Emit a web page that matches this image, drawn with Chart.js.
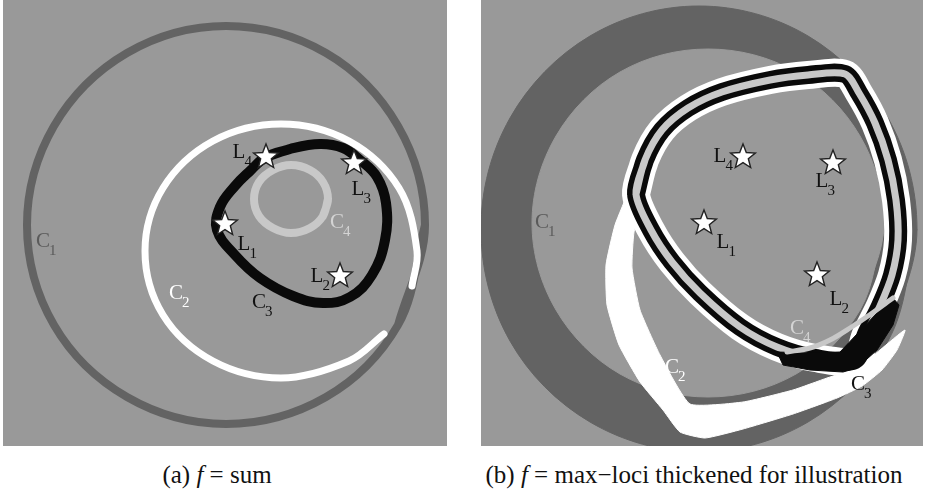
<!DOCTYPE html>
<html>
<head>
<meta charset="utf-8">
<script src="https://cdn.jsdelivr.net/npm/chart.js@4.4.1/dist/chart.umd.min.js"></script>
<style>
  body { margin: 0; background: #fff; width: 926px; height: 494px; position: relative; overflow: hidden; font-family: "Liberation Serif", serif; }
  .panel { position: absolute; top: 0; height: 446px; background: #999999; }
  #panelA { left: 3px; width: 444px; }
  #panelB { left: 481px; width: 442px; }
  .caption { position: absolute; top: 462px; font-size: 25px; line-height: 25px; text-align: center; color: #111; white-space: nowrap; }
</style>
</head>
<body>
<div class="panel" id="panelA"><canvas id="chartA"></canvas></div>
<div class="panel" id="panelB"><canvas id="chartB"></canvas></div>
<div class="caption" style="left:117px;width:200px">(a) <i>f</i> = sum</div>
<div class="caption" style="left:444px;width:500px">(b) <i>f</i> = max−loci thickened for illustration</div>
<script>
// all values are picture pixel coordinates [x, y]

// panel (a)
const aC1 = [[425,225],[398,325],[326,397],[226,424],[127,397],[54,325],[27,225],[54,126],[127,53],[226,26],[326,53],[398,126],[425,225],[398,325]];
const aC2 = [[384,334],[349,361],[281,378],[213,361],[163,315],[145,251],[163,188],[213,141],[281,124],[349,141],[399,188],[417,251],[412,286]];
const aC3 = [[266,157],[290,149],[320,144],[343,148],[360,160],[377,177],[386,203],[385,240],[372,275],[350,297],[323,303],[293,296],[260,278],[235,255],[217,230],[220,207],[235,186],[250,171],[266,157],[290,149]];
const aC4 = [[328,199],[323,216],[310,228],[291,233],[273,228],[259,216],[254,199],[259,182],[273,170],[291,165],[310,170],[323,182],[328,199],[323,216]];
const aStars = [[225,224],[340,276],[354,163],[266,157]]; // L1..L4

// panel (b)
const bC1Outer = [[917,229],[888,341],[808,422],[699,452],[590,422],[510,341],[481,229],[510,118],[590,36],[699,6],[808,36],[888,118],[917,229],[888,341]];
const bC1Inner = [[884,223],[860,310],[796,374],[708,397],[620,374],[556,310],[532,223],[556,136],[620,72],[708,49],[796,72],[860,136],[884,223],[860,310]];
const bC2 = [[630,188],[615,225],[606,265],[607,305],[619,345],[640,382],[663,410],[680,432],[705,438],[743,429],[793,414],[837,398],[862,386],[882,370],[897,350],[905,330],[880,350],[857,368],[827,378],[793,390],[743,402],[690,404],[660,355],[640,310],[632,268],[634,232],[642,205],[630,188]];
const bC3 = [[636,194],[645,160],[662,130],[688,108],[722,92],[770,80],[808,75],[845,74],[859,93],[875,123],[888,160],[896,200],[898,240],[892,275],[880,306],[866,334],[855,360],[815,358],[777,347],[740,327],[700,293],[672,262],[651,230],[636,194],[645,160]];
const bC3Knot = [[777,352],[810,353],[840,352],[858,333],[877,313],[893,298],[899,305],[893,325],[877,350],[857,368],[843,372],[810,370],[783,365],[777,352]];
const bC4 = [[787,352],[810,348],[830,340],[850,328],[868,316],[893,298]];
const bStars = [[704,223],[817,275],[833,163],[743,157]]; // L1..L4

const BG = '#999999', DARK = '#636363', LIGHT = '#c8c8c8', INK = '#111111';

// text labels: letter, subscript, centre of letter
const aLabels = [
    ['L','1',244,244,INK], ['L','2',317,276,INK], ['L','3',358,189,INK], ['L','4',239,152,INK],
    ['C','1',43,241,'#5a5a5a'], ['C','2',176,293,'#ffffff'], ['C','3',259,302,INK], ['C','4',337,222,'#d4d4d4']
];
const bLabels = [
    ['L','1',723,242,INK], ['L','2',836,299,INK], ['L','3',822,181,INK], ['L','4',720,156,INK],
    ['C','1',542,222,'#5a5a5a'], ['C','2',672,367,'#ffffff'], ['C','3',858,384,INK], ['C','4',797,328,'#d4d4d4']
];

const xy = arr => arr.map(p => ({ x: p[0], y: p[1] }));

function curve(points, color, width, order, tension) {
    return {
        data: xy(points), showLine: true, fill: false,
        borderColor: color, borderWidth: width, pointRadius: 0,
        tension: tension, order: order,
        borderJoinStyle: 'round', borderCapStyle: 'round'
    };
}

function shape(points, color, order, tension) {
    return {
        data: xy(points), showLine: true, fill: 'shape',
        borderColor: color, backgroundColor: color, borderWidth: 1,
        pointRadius: 0, tension: tension, order: order
    };
}

// white five-point star marker
function makeStar() {
    const c = document.createElement('canvas');
    c.width = 30; c.height = 30;
    const g = c.getContext('2d');
    g.beginPath();
    for (let i = 0; i < 10; i++) {
        const r = i % 2 ? 5.6 : 13;
        const a = -Math.PI / 2 + i * Math.PI / 5;
        g.lineTo(15 + r * Math.cos(a), 15 + r * Math.sin(a));
    }
    g.closePath();
    g.fillStyle = '#fff';
    g.fill();
    g.strokeStyle = '#222';
    g.lineWidth = 1.4;
    g.stroke();
    return c;
}
const star = makeStar();

function stars(points) {
    return { data: xy(points), showLine: false, pointStyle: star, pointRadius: 13, order: 0 };
}

function labelPlugin(items) {
    return {
        id: 'curveLabels',
        afterDatasetsDraw(chart) {
            const ctx = chart.ctx, xs = chart.scales.x, ys = chart.scales.y;
            ctx.save();
            ctx.textBaseline = 'middle';
            items.forEach(([main, sub, x, y, color]) => {
                const px = xs.getPixelForValue(x), py = ys.getPixelForValue(y);
                ctx.fillStyle = color;
                ctx.font = '21px "Liberation Serif"';
                ctx.textAlign = 'center';
                ctx.fillText(main, px, py);
                const w = ctx.measureText(main).width;
                ctx.font = '15px "Liberation Serif"';
                ctx.textAlign = 'left';
                ctx.fillText(sub, px + w / 2 - 1, py + 10);
            });
            ctx.restore();
        }
    };
}

function makeChart(id, xMin, xMax, datasets, labels) {
    return new Chart(document.getElementById(id), {
        type: 'scatter',
        data: { datasets: datasets },
        options: {
            animation: false,
            responsive: true,
            maintainAspectRatio: false,
            layout: { padding: 0, autoPadding: false },
            plugins: { legend: { display: false }, tooltip: { enabled: false } },
            scales: {
                x: { type: 'linear', min: xMin, max: xMax, display: false },
                y: { type: 'linear', min: 0, max: 446, reverse: true, display: false }
            }
        },
        plugins: [labelPlugin(labels)]
    });
}

makeChart('chartA', 3, 447, [
    curve(aC1, DARK, 8, 5, 0.35),
    curve(aC2, '#ffffff', 7, 4, 0.35),
    curve(aC4, LIGHT, 8, 3, 0.35),
    curve(aC3, '#0a0a0a', 10, 2, 0.4),
    stars(aStars)
], aLabels);

makeChart('chartB', 481, 923, [
    shape(bC1Outer, DARK, 9, 0.35),
    shape(bC1Inner, BG, 8, 0.35),
    shape(bC2, '#ffffff', 7, 0.15),
    curve(bC3, '#ffffff', 28, 6, 0.3),
    curve(bC3, '#0a0a0a', 18, 5, 0.3),
    curve(bC3, LIGHT, 7, 4, 0.3),
    shape(bC3Knot, '#0a0a0a', 3, 0),
    curve(bC4, LIGHT, 5, 2, 0.3),
    stars(bStars)
], bLabels);
</script>
</body>
</html>
